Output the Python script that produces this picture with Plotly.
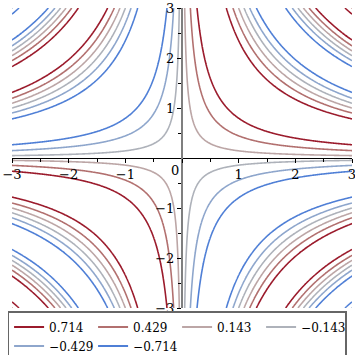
import numpy as np
import plotly.graph_objects as go

# contour levels of z = sin(x*y) on [-3,3]x[-3,3]
levels = [0.714, 0.429, 0.143, -0.143, -0.429, -0.714]
labels = ["0.714", "0.429", "0.143", "\u22120.143", "\u22120.429", "\u22120.714"]
colors = ["#9b1b2c", "#b2706f", "#bca6a6", "#aeb2ba", "#8ea6cc", "#4f7fd6"]
x_ticks = [-3, -2, -1, 0, 1, 2, 3]
y_ticks = [-3, -2, -1, 1, 2, 3]

xs = np.linspace(-3, 3, 401)
ys = np.linspace(-3, 3, 401)
X, Y = np.meshgrid(xs, ys)
Z = np.sin(X * Y)

lo, hi = min(levels), max(levels)
step = (hi - lo) / (len(levels) - 1)
order = sorted(zip(levels, colors))
cscale = [[(lev - lo) / (hi - lo), col] for lev, col in order]

fig = go.Figure()
fig.add_trace(go.Contour(
    x=xs, y=ys, z=Z,
    autocontour=False,
    contours=dict(start=lo, end=hi + 1e-6, size=step, coloring="lines", showlabels=False),
    colorscale=cscale, zauto=False, zmin=lo, zmax=hi,
    showscale=False, line=dict(width=1.6), hoverinfo="skip",
    showlegend=False,
))
for lab, col in zip(labels, colors):
    fig.add_trace(go.Scatter(x=[None], y=[None], mode="lines", name=lab,
                             line=dict(color=col, width=2)))

fig.add_annotation(x=0, y=0, text="0", showarrow=False, xshift=-7, yshift=-12,
                   font=dict(family="DejaVu Serif", size=13, color="black"))

fig.update_layout(
    width=355, height=355,
    margin=dict(l=12, r=3, t=8, b=47, autoexpand=False),
    plot_bgcolor="white", paper_bgcolor="white",
    font=dict(family="DejaVu Serif", size=13, color="black"),
    showlegend=True,
    legend=dict(orientation="h", x=-0.013, xanchor="left", y=-0.01, yanchor="top",
                entrywidth=39, entrywidthmode="pixels", itemwidth=30,
                bordercolor="#666666", borderwidth=1.5, bgcolor="white",
                font=dict(family="DejaVu Serif", size=12), tracegroupgap=0),
    xaxis=dict(range=[-3, 3], anchor="free", position=0.5, showgrid=False, zeroline=False,
               showline=True, linecolor="black", linewidth=1,
               tickvals=x_ticks, ticktext=["\u22123", "\u22122", "\u22121", "", "1", "2", "3"],
               ticks="outside", ticklen=4, tickcolor="black", ticklabeloverflow="allow",
               minor=dict(tickvals=[-2.5, -1.5, -0.5, 0.5, 1.5, 2.5], ticks="outside", ticklen=3, tickcolor="black"),
               tickfont=dict(family="DejaVu Serif", size=13)),
    yaxis=dict(range=[-3, 3], anchor="free", position=0.5, showgrid=False, zeroline=False,
               showline=True, linecolor="#7f7f7f", linewidth=2,
               tickvals=y_ticks, ticks="outside", ticklen=4, tickcolor="black", ticklabeloverflow="allow",
               minor=dict(tickvals=[-2.5, -1.5, -0.5, 0.5, 1.5, 2.5], ticks="outside", ticklen=3, tickcolor="black"),
               tickfont=dict(family="DejaVu Serif", size=13)),
)

fig.write_html("out.html", config={"displayModeBar": False},
               post_script="document.body.style.margin='0';")
